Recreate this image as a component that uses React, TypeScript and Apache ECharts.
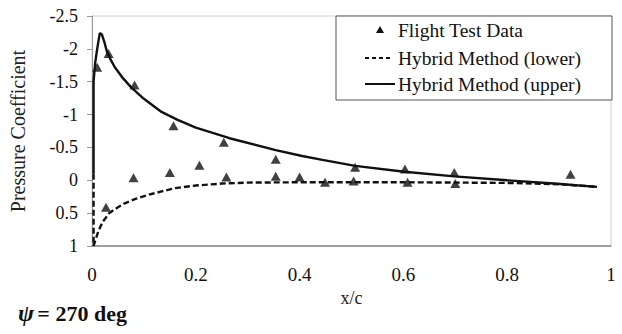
import React, { useEffect, useRef } from "react";
import * as echarts from "echarts";

const FONT = "Liberation Serif";

const xTicks = [0, 0.2, 0.4, 0.6, 0.8, 1];
const yTicks = [-2.5, -2, -1.5, -1, -0.5, 0, 0.5, 1];

const flightTest: [number, number][] = [
  [0.01, -1.72], [0.032, -1.93], [0.082, -1.45], [0.157, -0.83], [0.254, -0.58],
  [0.354, -0.32], [0.507, -0.2], [0.603, -0.17], [0.698, -0.12], [0.922, -0.09],
  [0.027, 0.41], [0.08, -0.04], [0.15, -0.12], [0.207, -0.23], [0.259, -0.05],
  [0.354, -0.06], [0.4, -0.05], [0.449, 0.03], [0.504, 0.01], [0.608, 0.03], [0.7, 0.05],
];

const hybridLower: [number, number][] = [
  [0.003, -0.1], [0.003, 1.0], [0.012, 0.78], [0.02, 0.64], [0.033, 0.5], [0.05, 0.41],
  [0.063, 0.35], [0.085, 0.28], [0.109, 0.22], [0.134, 0.17], [0.16, 0.12], [0.2, 0.08],
  [0.25, 0.05], [0.3, 0.035], [0.4, 0.03], [0.5, 0.03], [0.6, 0.03], [0.7, 0.035],
  [0.8, 0.04], [0.9, 0.06], [0.973, 0.1],
];

const hybridUpper: [number, number][] = [
  [0.003, -0.1], [0.003, -1.5], [0.006, -1.78], [0.01, -2.0], [0.015, -2.24], [0.019, -2.22],
  [0.024, -2.1], [0.029, -1.95], [0.037, -1.82], [0.044, -1.72], [0.06, -1.55], [0.076, -1.41],
  [0.1, -1.24], [0.134, -1.04], [0.165, -0.92], [0.2, -0.8], [0.265, -0.64], [0.354, -0.46],
  [0.405, -0.37], [0.444, -0.31], [0.507, -0.22], [0.602, -0.13], [0.698, -0.06], [0.8, 0.0],
  [0.89, 0.05], [0.973, 0.1],
];

export default function App() {
  const ref = useRef<HTMLDivElement>(null);
  useEffect(() => {
    if (!ref.current) return;
    const chart = echarts.init(ref.current, null, { renderer: "svg" });
    chart.setOption({
      animation: false,
      backgroundColor: "#fff",
      textStyle: { fontFamily: FONT },
      grid: {
        left: 88, right: 11, top: 16, bottom: 88,
        show: true, borderColor: "#d0d0d0", borderWidth: 1,
      },
      xAxis: {
        type: "value", min: 0, max: 1, interval: 0.2,
        name: "x/c", nameLocation: "middle", nameGap: 41,
        nameTextStyle: { fontFamily: FONT, fontSize: 18, color: "#222" },
        axisLine: { show: true, onZero: false, lineStyle: { color: "#888", width: 1.5 } },
        axisTick: { show: false },
        splitLine: { show: false },
        axisLabel: {
          margin: 19, fontFamily: FONT, fontSize: 19, color: "#111",
          formatter: (v: number) => (xTicks.includes(+v.toFixed(1)) ? String(+v.toFixed(1)) : ""),
        },
      },
      yAxis: {
        type: "value", inverse: true, min: -2.5, max: 1, interval: 0.5,
        name: "Pressure Coefficient", nameLocation: "middle", nameGap: 64,
        nameTextStyle: { fontFamily: FONT, fontSize: 20, color: "#222" },
        axisLine: { show: true, onZero: false, lineStyle: { color: "#999" } },
        axisTick: { show: true, length: 5, lineStyle: { color: "#999" } },
        splitLine: { show: false },
        axisLabel: {
          margin: 14, fontFamily: FONT, fontSize: 18, color: "#111",
          formatter: (v: number) => (yTicks.includes(+v.toFixed(1)) ? String(+v.toFixed(1)) : ""),
        },
      },
      series: [
        {
          name: "Hybrid Method (lower)", type: "line", data: hybridLower,
          showSymbol: false, symbol: "none",
          lineStyle: { color: "#111", width: 2.4, type: [6, 3] },
        },
        {
          name: "Hybrid Method (upper)", type: "line", data: hybridUpper,
          showSymbol: false, symbol: "none",
          lineStyle: { color: "#111", width: 2.4 },
        },
        {
          name: "Flight Test Data", type: "scatter", data: flightTest,
          symbol: "triangle", symbolSize: [10, 9],
          itemStyle: { color: "#111" }, z: 5,
        },
      ],
      graphic: [
        {
          type: "rect", shape: { x: 336, y: 16, width: 276, height: 84 },
          style: { fill: "#fff", stroke: "#555", lineWidth: 1 }, z: 10,
        },
        {
          type: "polygon", shape: { points: [[380, 26], [384, 33], [376, 33]] },
          style: { fill: "#111" }, z: 11,
        },
        {
          type: "line", shape: { x1: 365, y1: 58, x2: 392, y2: 58 },
          style: { stroke: "#111", lineWidth: 2, lineDash: [4, 3] }, z: 11,
        },
        {
          type: "line", shape: { x1: 365, y1: 84, x2: 395, y2: 84 },
          style: { stroke: "#111", lineWidth: 2 }, z: 11,
        },
        {
          type: "text", x: 398, y: 30, z: 11,
          style: { text: "Flight Test Data", fontFamily: FONT, fontSize: 19.5, fill: "#111", verticalAlign: "middle" },
        },
        {
          type: "text", x: 398, y: 58, z: 11,
          style: { text: "Hybrid Method (lower)", fontFamily: FONT, fontSize: 19.5, fill: "#111", verticalAlign: "middle" },
        },
        {
          type: "text", x: 398, y: 84, z: 11,
          style: { text: "Hybrid Method (upper)", fontFamily: FONT, fontSize: 19.5, fill: "#111", verticalAlign: "middle" },
        },
        {
          type: "text", x: 18, y: 313, z: 11,
          style: {
            text: "{a|ψ} {b|= 270 deg}", verticalAlign: "middle",
            rich: {
              a: { fontFamily: FONT, fontSize: 24, fontStyle: "italic", fontWeight: "bold", fill: "#111" },
              b: { fontFamily: FONT, fontSize: 22, fontWeight: "bold", fill: "#111" },
            },
          },
        },
      ],
    });
    return () => chart.dispose();
  }, []);
  return <div ref={ref} style={{ width: 622, height: 334, position: "absolute", left: 0, top: 0 }} />;
}
